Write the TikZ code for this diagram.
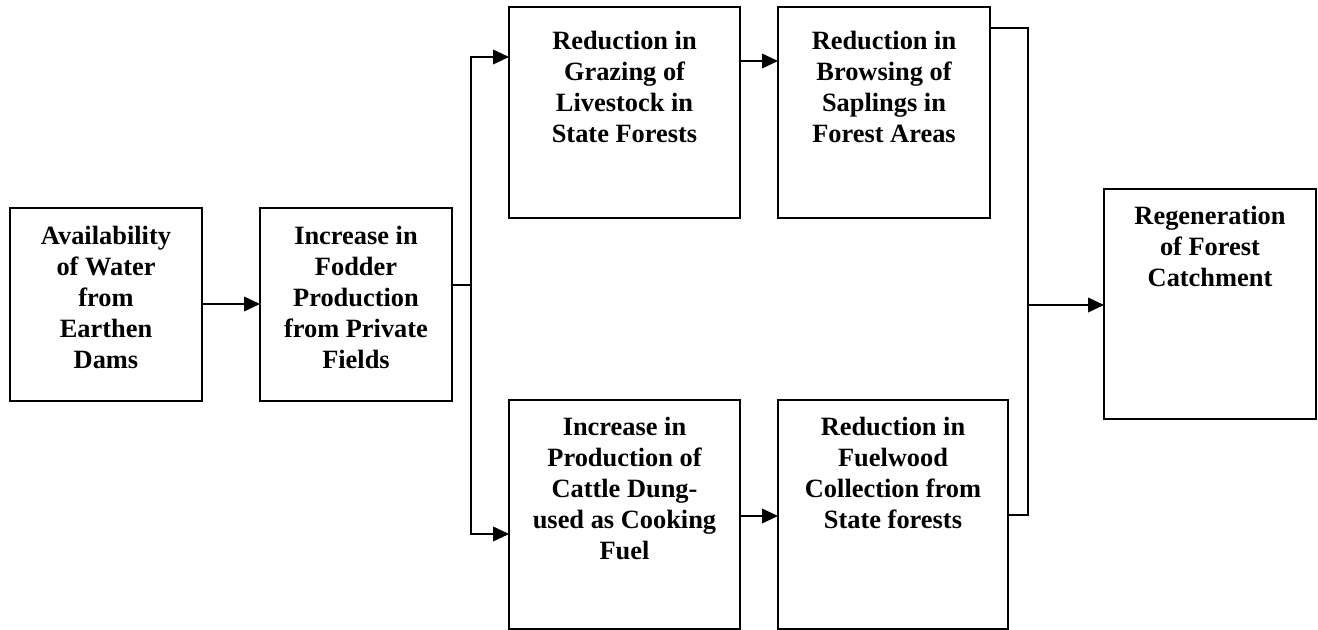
\documentclass[tikz,border=0pt]{standalone}
\usepackage{fontspec}
\setmainfont{Liberation Serif}
\usetikzlibrary{arrows.meta}
\begin{document}
\begin{tikzpicture}[x=0.75pt,y=-0.75pt,
  box/.style={draw, line width=1.5pt, rectangle, inner sep=0pt, outer sep=0pt, anchor=north west},
  lbl/.style={anchor=north, inner sep=0pt, align=center, font=\bfseries\fontsize{19.8}{23.25}\selectfont},
  conn/.style={line width=1.3pt},
  arr/.style={conn, -{Triangle[length=12pt,width=11pt]}}]
\useasboundingbox (0,0) rectangle (1318,630);

% boxes
\node[box, minimum width=144pt,    minimum height=144.75pt] (A) at (10,208) {};
\node[box, minimum width=144pt,    minimum height=144.75pt] (B) at (260,208) {};
\node[box, minimum width=173.25pt, minimum height=158.25pt] (C) at (509,7) {};
\node[box, minimum width=159pt,    minimum height=158.25pt] (D) at (778,7) {};
\node[box, minimum width=173.25pt, minimum height=171.75pt] (E) at (509,400) {};
\node[box, minimum width=172.5pt,  minimum height=171.75pt] (F) at (778,400) {};
\node[box, minimum width=159pt,    minimum height=172.5pt]  (G) at (1104,189) {};

% texts
\node[lbl] (At) at (106,226) {Availability\\of Water\\from\\Earthen\\Dams};
\node[lbl] (Bt) at (356,226) {Increase in\\Fodder\\Production\\from Private\\Fields};
\node[lbl] (Ct) at (624.5,31) {Reduction in\\Grazing of\\Livestock in\\State Forests};
\node[lbl] (Dt) at (884,31) {Reduction in\\Browsing of\\Saplings in\\Forest Areas};
\node[lbl] (Et) at (624.5,417) {Increase in\\Production of\\Cattle Dung-\\used as Cooking\\Fuel};
\node[lbl] (Ft) at (893,417) {Reduction in\\Fuelwood\\Collection from\\State forests};
\node[lbl] (Gt) at (1210,206) {Regeneration\\of Forest\\Catchment};

% junction points
\coordinate (j1) at (471,285);
\coordinate (jt) at (471,57);
\coordinate (jb) at (471,534);
\coordinate (k1) at (1028,28);
\coordinate (k2) at (1028,515);
\coordinate (k3) at (1028,305);
\coordinate (yab) at (0,304);
\coordinate (ycd) at (0,61);
\coordinate (yef) at (0,516);

% connectors
\draw[arr] (A.east |- yab) -- (B.west |- yab);
\draw[conn] (B.east |- j1) -- (j1);
\draw[arr] (j1) -- (jt) -- (C.west |- jt);
\draw[arr] (j1) -- (jb) -- (E.west |- jb);
\draw[arr] (C.east |- ycd) -- (D.west |- ycd);
\draw[arr] (E.east |- yef) -- (F.west |- yef);
\draw[conn] (D.east |- k1) -- (k1) -- (k2) -- (F.east |- k2);
\draw[arr] (k3) -- (G.west |- k3);
\end{tikzpicture}
\end{document}
